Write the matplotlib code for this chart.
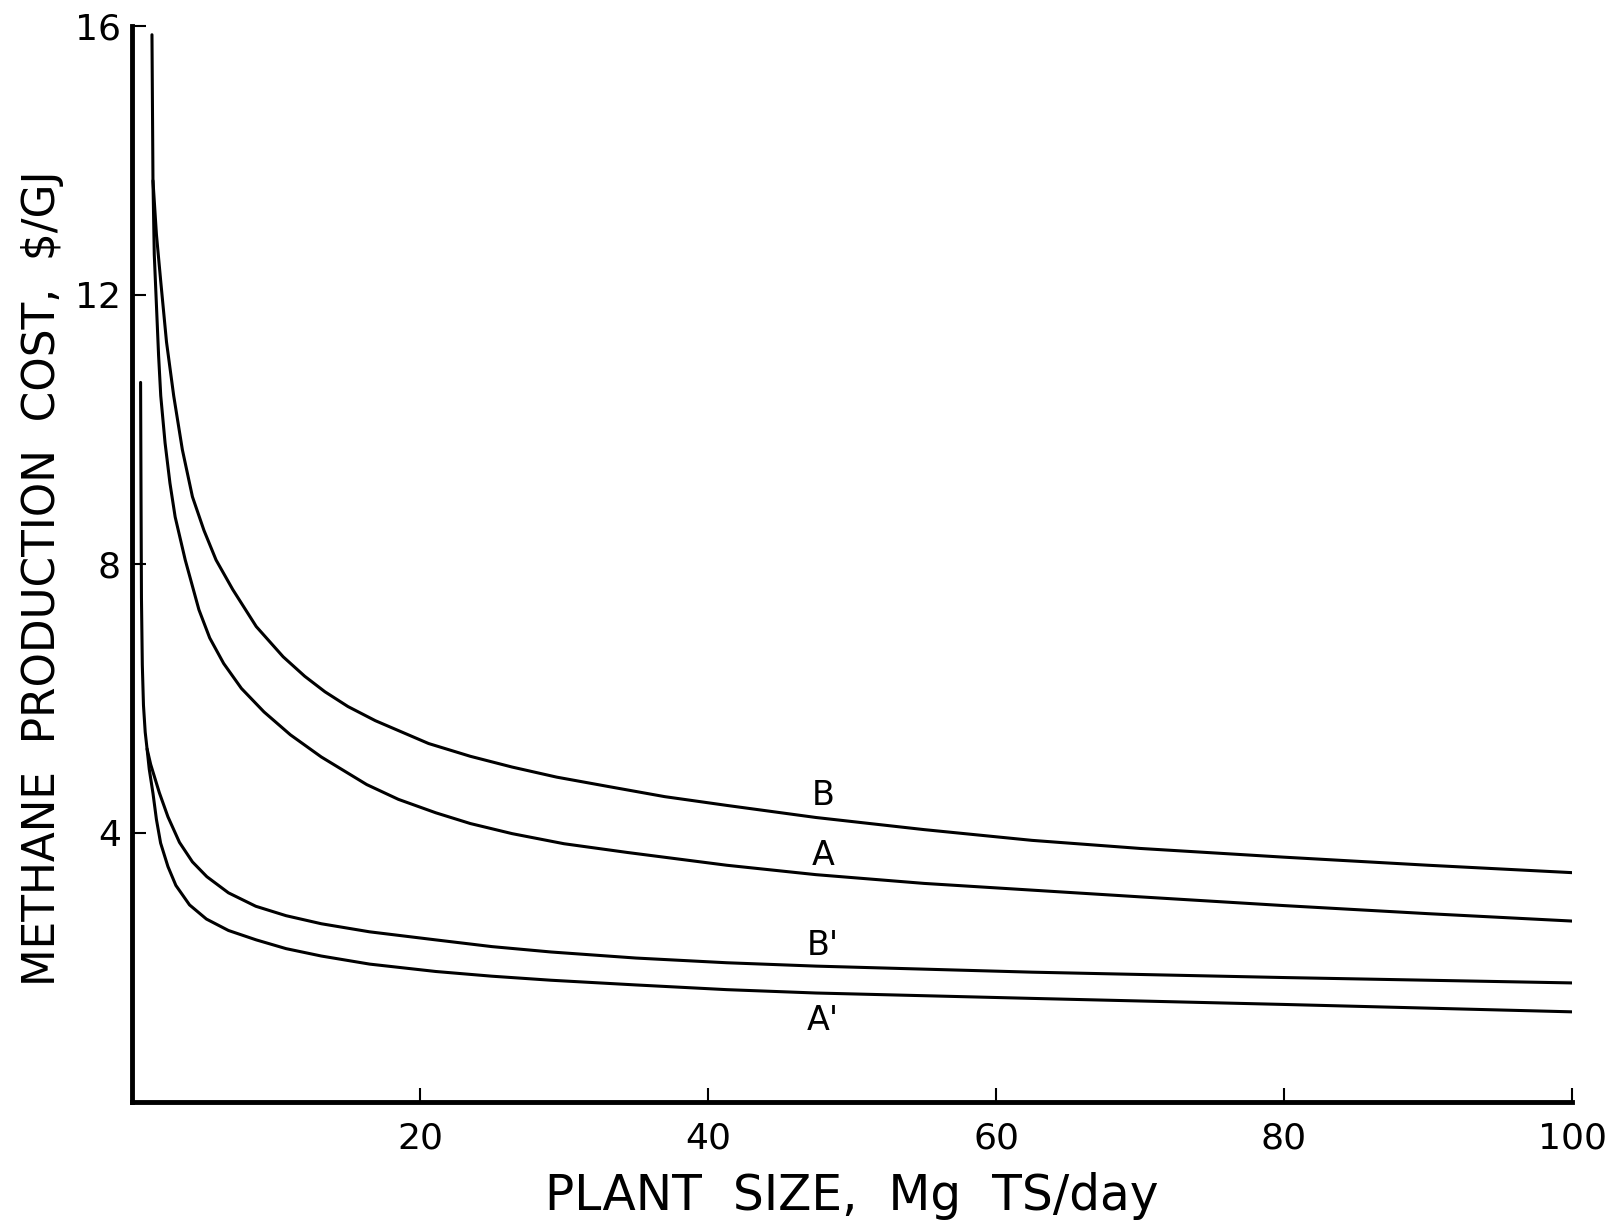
import matplotlib
matplotlib.use('Agg')
import matplotlib.pyplot as plt

# plant size (Mg TS/day) and methane production cost ($/GJ)
b_size = [1.39, 1.46, 1.7, 2.0, 2.4, 2.9, 3.5, 4.2, 5.0, 5.84, 7.0, 8.63, 10.5, 12.0,
          13.4, 15.0, 16.9, 20.6, 23.5, 26.4, 29.5, 33.1, 37.0, 41.3, 47.5, 55.0, 62.5,
          70.0, 80.0, 90.0, 100.0]
b_cost = [15.87, 13.7, 12.9, 12.2, 11.3, 10.5, 9.7, 9.0, 8.5, 8.06, 7.62, 7.07, 6.62, 6.33,
          6.1, 5.88, 5.67, 5.33, 5.14, 4.98, 4.83, 4.69, 4.54, 4.41, 4.23, 4.05, 3.89,
          3.77, 3.64, 3.52, 3.41]

a_size = [1.46, 1.55, 1.69, 1.85, 2.0, 2.3, 2.64, 3.0, 3.7, 4.65, 5.4, 6.37, 7.6, 9.17,
          11.0, 13.15, 16.3, 18.5, 21.1, 23.5, 26.4, 30.0, 34.4, 41.3, 47.5, 55.0, 62.5,
          70.0, 80.0, 90.0, 100.0]
a_cost = [13.7, 12.6, 11.9, 11.1, 10.5, 9.8, 9.2, 8.7, 8.06, 7.32, 6.9, 6.52, 6.15, 5.8,
          5.46, 5.13, 4.72, 4.5, 4.3, 4.14, 3.99, 3.84, 3.71, 3.52, 3.38, 3.25, 3.15,
          3.05, 2.92, 2.8, 2.69]

b1_size = [0.6, 0.63, 0.66, 0.72, 0.8, 0.92, 1.05, 1.3, 1.5, 1.9, 2.5, 3.3, 4.2, 5.2,
           6.7, 8.6, 10.7, 13.15, 16.5, 21.1, 25.0, 29.1, 35.0, 41.3, 47.5, 62.5, 80.0, 100.0]
b1_cost = [10.7, 9.0, 7.5, 6.5, 5.9, 5.5, 5.25, 5.02, 4.88, 4.6, 4.24, 3.86, 3.57, 3.35,
           3.11, 2.91, 2.77, 2.65, 2.53, 2.41, 2.31, 2.23, 2.14, 2.07, 2.02, 1.93, 1.85, 1.77]

a1_size = [1.05, 1.2, 1.46, 1.7, 1.99, 2.5, 3.05, 4.0, 5.17, 6.7, 8.63, 10.7, 13.15,
           16.5, 21.1, 25.0, 29.1, 35.0, 41.3, 47.5, 62.5, 80.0, 100.0]
a1_cost = [5.25, 4.95, 4.59, 4.2, 3.85, 3.5, 3.22, 2.93, 2.72, 2.55, 2.41, 2.28, 2.17,
           2.05, 1.94, 1.87, 1.81, 1.74, 1.67, 1.62, 1.54, 1.45, 1.34]

curve_labels = ['B', 'A', "B'", "A'"]
label_x = [48, 48, 48, 48]
label_y = [4.56, 3.66, 2.33, 1.21]

xticks = [20, 40, 60, 80, 100]
yticks = [4, 8, 12, 16]

fig = plt.figure(figsize=(16.19, 12.21), dpi=100)
ax = fig.add_axes([0.0815, 0.0975, 0.8895, 0.8812])

for xs, ys in [(b_size, b_cost), (a_size, a_cost), (b1_size, b1_cost), (a1_size, a1_cost)]:
    ax.plot(xs, ys, color='black', linewidth=2.2, solid_joinstyle='round',
            solid_capstyle='round')

for lab, lx, ly in zip(curve_labels, label_x, label_y):
    ax.text(lx, ly, lab, fontsize=24, ha='center', va='center')

ax.set_xlim(0, 100)
ax.set_ylim(0, 16)
ax.spines['top'].set_visible(False)
ax.spines['right'].set_visible(False)
ax.spines['left'].set_linewidth(3.5)
ax.spines['bottom'].set_linewidth(3.5)
ax.set_xticks(xticks)
ax.set_yticks(yticks)
ax.tick_params(direction='in', length=10, width=1.5, labelsize=26, pad=14)
ax.tick_params(axis='y', pad=8)
ax.set_xlabel('PLANT  SIZE,  Mg  TS/day', fontsize=35, labelpad=12)
ax.set_ylabel('METHANE  PRODUCTION  COST,  \\$/GJ', fontsize=31.5)
ax.yaxis.set_label_coords(-0.047, 0.487)

plt.savefig('out.png', dpi=100)
